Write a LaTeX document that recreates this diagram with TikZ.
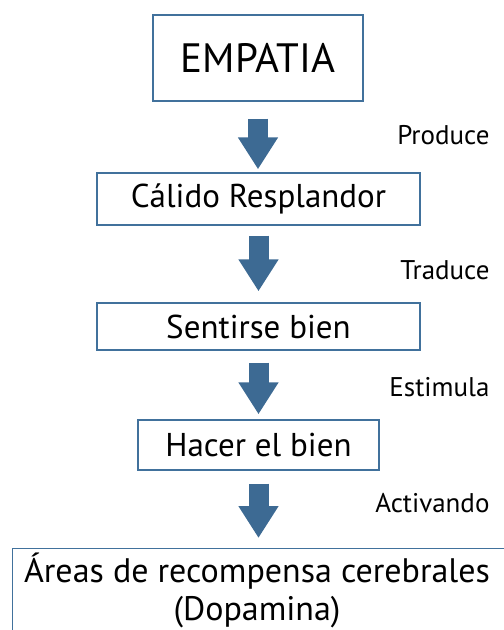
\documentclass[tikz,border=0pt]{standalone}
\usepackage{fontspec}
\setmainfont{PT Sans}
\usepackage{tikz}
\usetikzlibrary{positioning,arrows.meta}
\definecolor{borde}{HTML}{41719C}
\definecolor{flecha}{HTML}{3D6A93}

\begin{document}
\begin{tikzpicture}[x=1pt,y=1pt,
  box/.style={draw=borde,line width=1.4pt,align=center,inner sep=0pt},
  bigarrow/.style={flecha,line width=20pt,-{Triangle[width=38pt,length=32pt]}},
  tag/.style={anchor=east,font=\fontsize{27}{30}\selectfont}]
\useasboundingbox (0,0) rectangle (504,-630);

\node[box,minimum width=210,minimum height=86,font=\fontsize{41}{44}\selectfont] (E) at (258,-58) {EMPATIA};
\node[box,minimum width=323,minimum height=52,font=\fontsize{33}{35}\selectfont] (C) at (258.5,-199) {Cálido Resplandor};
\node[box,minimum width=323,minimum height=47,font=\fontsize{33}{35}\selectfont] (S) at (258.5,-326.5) {Sentirse bien};
\node[box,minimum width=241,minimum height=50,font=\fontsize{33}{35}\selectfont] (H) at (258.5,-445) {Hacer el bien};
\node[box,minimum width=520,minimum height=110,anchor=north west] (A) at (12,-548) {};
\node[align=center,font=\fontsize{34}{38}\selectfont] (At) at (257,-590) {Áreas de recompensa cerebrales\\(Dopamina)};

\node[tag] (p) at (493,-135) {Produce};
\node[tag] (t) at (493,-270) {Traduce};
\node[tag] (e) at (493,-387) {Estimula};
\node[tag] (a) at (493,-503) {Activando};

\draw[bigarrow,shorten <=17pt,shorten >=3pt] (E.south) -- (E.south |- C.north);
\draw[bigarrow,shorten <=10pt,shorten >=11pt] (C.south) -- (C.south |- S.north);
\draw[bigarrow,shorten <=12pt,shorten >=5pt] (S.south) -- (S.south |- H.north);
\draw[bigarrow,shorten <=13pt,shorten >=10pt] (H.south) -- (H.south |- A.north);
\end{tikzpicture}
\end{document}
